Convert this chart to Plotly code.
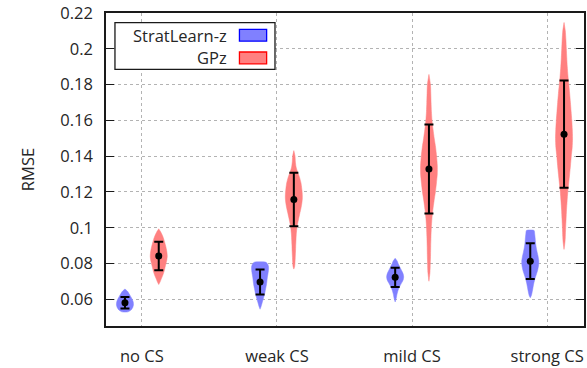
import plotly.graph_objects as go

# ---- data -----------------------------------------------------------------
categories = ["no CS", "weak CS", "mild CS", "strong CS"]

y_tick_values = [0.06, 0.08, 0.10, 0.12, 0.14, 0.16, 0.18, 0.20, 0.22]
y_tick_labels = ["0.06", "0.08", "0.1", "0.12", "0.14", "0.16", "0.18", "0.2", "0.22"]

# mean RMSE and its standard deviation per scenario
strat_mean = [0.0581, 0.0697, 0.0723, 0.0813]
strat_std = [0.0032, 0.0070, 0.0054, 0.0100]
gpz_mean = [0.0842, 0.1158, 0.1328, 0.1523]
gpz_std = [0.0080, 0.0150, 0.0249, 0.0300]

# kernel density outlines (RMSE level, relative density), top to bottom
strat_kde_rmse = [
    [0.0658, 0.0645, 0.0630, 0.0615, 0.0600, 0.0585, 0.0570, 0.0555, 0.0540, 0.0530],
    [0.0807, 0.0795, 0.0780, 0.0760, 0.0740, 0.0720, 0.0700, 0.0680, 0.0660, 0.0640,
     0.0620, 0.0600, 0.0580, 0.0560, 0.0545],
    [0.0829, 0.0815, 0.0800, 0.0785, 0.0770, 0.0755, 0.0740, 0.0725, 0.0710, 0.0695,
     0.0680, 0.0665, 0.0650, 0.0635, 0.0620, 0.0605, 0.0585],
    [0.0985, 0.0965, 0.0940, 0.0915, 0.0890, 0.0865, 0.0840, 0.0815, 0.0790, 0.0765,
     0.0740, 0.0715, 0.0690, 0.0665, 0.0640, 0.0620, 0.0609],
]
strat_kde_dens = [
    [0.00, 0.30, 0.50, 0.68, 0.85, 0.97, 1.00, 0.92, 0.70, 0.35],
    [0.70, 0.92, 1.00, 0.98, 0.92, 0.85, 0.80, 0.74, 0.66, 0.58,
     0.48, 0.36, 0.24, 0.12, 0.00],
    [0.00, 0.22, 0.35, 0.50, 0.66, 0.82, 0.95, 1.00, 0.95, 0.80,
     0.62, 0.46, 0.34, 0.25, 0.18, 0.12, 0.00],
    [0.45, 0.52, 0.58, 0.62, 0.70, 0.80, 0.92, 1.00, 0.98, 0.88,
     0.72, 0.55, 0.42, 0.32, 0.22, 0.12, 0.00],
]
gpz_kde_rmse = [
    [0.0994, 0.0975, 0.0955, 0.0935, 0.0915, 0.0895, 0.0875, 0.0855, 0.0840, 0.0820,
     0.0800, 0.0780, 0.0760, 0.0740, 0.0720, 0.0700, 0.0683],
    [0.1431, 0.1400, 0.1370, 0.1340, 0.1310, 0.1280, 0.1250, 0.1220, 0.1190, 0.1165,
     0.1140, 0.1110, 0.1080, 0.1050, 0.1020, 0.0990, 0.0960, 0.0930, 0.0900, 0.0870,
     0.0840, 0.0810, 0.0785, 0.0769],
    [0.1857, 0.1800, 0.1750, 0.1700, 0.1650, 0.1600, 0.1550, 0.1500, 0.1450, 0.1400,
     0.1350, 0.1300, 0.1250, 0.1200, 0.1150, 0.1100, 0.1050, 0.1000, 0.0950, 0.0900,
     0.0850, 0.0800, 0.0750, 0.0701],
    [0.2147, 0.2100, 0.2050, 0.2000, 0.1950, 0.1900, 0.1850, 0.1800, 0.1750, 0.1700,
     0.1650, 0.1600, 0.1550, 0.1500, 0.1450, 0.1400, 0.1350, 0.1300, 0.1250, 0.1200,
     0.1150, 0.1100, 0.1050, 0.1000, 0.0950, 0.0920, 0.0879],
]
gpz_kde_dens = [
    [0.00, 0.25, 0.45, 0.60, 0.72, 0.83, 0.92, 0.98, 1.00, 0.95,
     0.85, 0.75, 0.65, 0.52, 0.35, 0.18, 0.00],
    [0.00, 0.14, 0.18, 0.26, 0.45, 0.68, 0.84, 0.93, 0.99, 1.00,
     0.95, 0.84, 0.70, 0.56, 0.43, 0.34, 0.28, 0.25, 0.22, 0.20,
     0.17, 0.14, 0.10, 0.00],
    [0.00, 0.18, 0.22, 0.25, 0.29, 0.36, 0.48, 0.62, 0.78, 0.90,
     0.98, 0.98, 0.88, 0.76, 0.60, 0.46, 0.35, 0.28, 0.24, 0.21,
     0.19, 0.16, 0.12, 0.00],
    [0.00, 0.15, 0.22, 0.27, 0.32, 0.38, 0.46, 0.56, 0.66, 0.75,
     0.83, 0.91, 0.97, 1.00, 0.96, 0.85, 0.76, 0.66, 0.55, 0.44,
     0.36, 0.29, 0.24, 0.19, 0.15, 0.11, 0.00],
]

# ---- styling --------------------------------------------------------------
FONT = "Open Sans"
TEXT = "#262626"
BLUE_FILL, BLUE_EDGE = "#8080ff", "#0000ff"
RED_FILL, RED_EDGE = "#ff8080", "#ff0000"
OFFSET = 0.125        # horizontal shift of each method from the category centre
HALF_WIDTH = 0.063    # half width of a violin at its density peak (x units)

positions = list(range(1, len(categories) + 1))

fig = go.Figure()


def add_violin(center, levels, dens, fill):
    right_x = [center + d * HALF_WIDTH for d in dens]
    left_x = [center - d * HALF_WIDTH for d in reversed(dens)]
    xs = right_x + left_x + [right_x[0]]
    ys = list(levels) + list(reversed(levels)) + [levels[0]]
    fig.add_trace(go.Scatter(
        x=xs, y=ys, mode="lines", fill="toself", fillcolor=fill,
        line=dict(color=fill, width=0.5, shape="spline", smoothing=0.6),
        hoverinfo="skip", showlegend=False,
    ))


for i, p in enumerate(positions):
    add_violin(p - OFFSET, strat_kde_rmse[i], strat_kde_dens[i], BLUE_FILL)
    add_violin(p + OFFSET, gpz_kde_rmse[i], gpz_kde_dens[i], RED_FILL)

err_style = dict(type="data", color="black", thickness=2, width=4.5)
fig.add_trace(go.Scatter(
    x=[p - OFFSET for p in positions], y=strat_mean, mode="markers",
    marker=dict(color="black", size=7),
    error_y=dict(array=strat_std, **err_style),
    name="StratLearn-z", showlegend=False,
))
fig.add_trace(go.Scatter(
    x=[p + OFFSET for p in positions], y=gpz_mean, mode="markers",
    marker=dict(color="black", size=7),
    error_y=dict(array=gpz_std, **err_style),
    name="GPz", showlegend=False,
))

# ---- key box (text first, swatch on the right) ------------------------------
L, R, T, B = 106, 586, 13, 330
W, H = R - L, B - T


def px(x):
    return (x - L) / W


def py(y):
    return (B - y) / H


shapes = [dict(type="rect", xref="paper", yref="paper",
               x0=px(115), x1=px(275.7), y0=py(70), y1=py(22.7),
               line=dict(color="#1a1a1a", width=1.3), fillcolor="white", layer="above")]
annotations = []
for row_y, label, fill, edge in [(35.5, "StratLearn-z", BLUE_FILL, BLUE_EDGE),
                                 (58.5, "GPz", RED_FILL, RED_EDGE)]:
    shapes.append(dict(type="rect", xref="paper", yref="paper",
                       x0=px(240), x1=px(267.3), y0=py(row_y + 6), y1=py(row_y - 6),
                       line=dict(color=edge, width=1.3), fillcolor=fill, layer="above"))
    annotations.append(dict(xref="paper", yref="paper", x=px(230), y=py(row_y),
                            xanchor="right", yanchor="middle", showarrow=False,
                            text=label, font=dict(family=FONT, size=16.5, color=TEXT)))

fig.update_layout(
    width=587, height=368,
    margin=dict(l=L, r=587 - R, t=T, b=368 - B),
    paper_bgcolor="white", plot_bgcolor="white",
    font=dict(family=FONT, size=16.5, color=TEXT),
    shapes=shapes, annotations=annotations,
    showlegend=False,
)
fig.update_xaxes(
    range=[1 - 36 / 135.67, 4 + 37 / 135.67],
    tickvals=positions, ticktext=categories, ticks="",
    ticklabelstandoff=14,
    showgrid=True, gridcolor="#b3b3b3", gridwidth=1, griddash="dot",
    showline=True, linecolor="#1a1a1a", linewidth=1.5, mirror=True,
    zeroline=False,
)
fig.update_yaxes(
    range=[0.0451, 0.22],
    tickvals=y_tick_values, ticktext=y_tick_labels,
    ticks="inside", ticklen=8, tickwidth=1.3, tickcolor="#1a1a1a",
    ticklabelstandoff=8,
    showgrid=True, gridcolor="#b3b3b3", gridwidth=1, griddash="dot",
    showline=True, linecolor="#1a1a1a", linewidth=1.5, mirror="ticks",
    zeroline=False,
    title=dict(text="RMSE", standoff=22, font=dict(family=FONT, size=16.5, color=TEXT)),
)

fig.write_html("out.html")
